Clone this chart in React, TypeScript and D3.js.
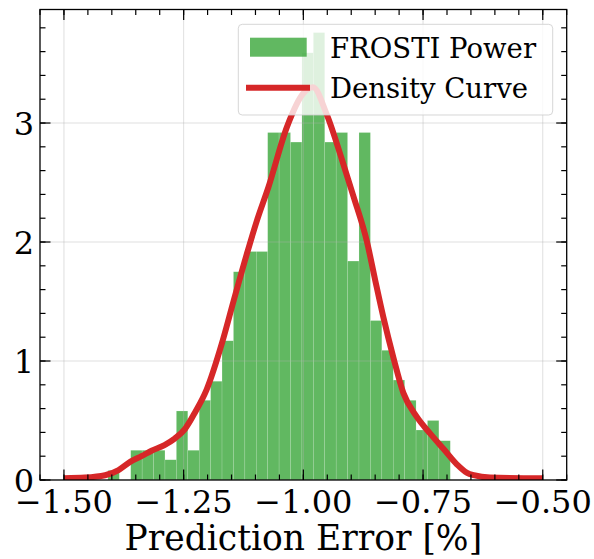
import React from 'react';
import * as d3 from 'd3';

// histogram densities, 30 equal bins over the data range
const histRange = [-1.4082, -0.6931];
const histDensity = [
  0.08, 0, 0.25, 0.25, 0.25, 0.17, 0.58, 0.25, 0.67, 0.83,
  1.17, 1.75, 1.92, 1.92, 2.92, 2.92, 2.84, 3.59, 3.76, 2.84,
  2.92, 1.84, 2.92, 1.34, 1.09, 0.84, 0.67, 0.42, 0.5, 0.33,
];

// density curve
const curveX = [
  -1.5, -1.456, -1.414, -1.386, -1.361, -1.338, -1.317, -1.29, -1.268, -1.247,
  -1.226, -1.202, -1.17, -1.146, -1.118, -1.097, -1.073, -1.034, -1.0, -0.98,
  -0.951, -0.92, -0.895, -0.867, -0.85, -0.833, -0.812, -0.791, -0.763, -0.735,
  -0.707, -0.679, -0.658, -0.644, -0.61, -0.5,
];
const curveY = [
  0.015, 0.02, 0.04, 0.084, 0.154, 0.2, 0.246, 0.294, 0.35, 0.43,
  0.57, 0.76, 1.15, 1.5, 1.9, 2.18, 2.46, 2.97, 3.25, 3.3,
  3.07, 2.7, 2.38, 2.0, 1.68, 1.37, 1.03, 0.73, 0.53, 0.39,
  0.26, 0.13, 0.06, 0.04, 0.02, 0.015,
];

const xTicks = [-1.5, -1.25, -1.0, -0.75, -0.5];
const yTicks = [0, 1, 2, 3];
const legendLabels = ['FROSTI Power', 'Density Curve'];

const W = 594;
const H = 559;
const left = 40, right = 566.7, top = 9.5, bottom = 480;
const FONT = '"DejaVu Serif", serif';
const GREEN = '#2ca02c';
const RED = '#d62728';

const fmt = (v: number) => d3.format('.2f')(v).replace('-', '\u2212');

export default function App() {
  const x = d3.scaleLinear().domain([-1.55, -0.45]).range([left, right]);
  const y = d3.scaleLinear().domain([0, 3.954]).range([bottom, top]);

  const binW = (histRange[1] - histRange[0]) / histDensity.length;
  const bins = histDensity.map((d, i) => ({
    x0: histRange[0] + i * binW,
    x1: histRange[0] + (i + 1) * binW,
    d,
  }));

  const line = d3
    .line<number>()
    .x((_, i) => x(curveX[i]))
    .y((d) => y(d))
    .curve(d3.curveMonotoneX);

  const xMinor = x.ticks(22);
  const yMinor = y.ticks(20);

  const MAJ = 10.5, MIN = 5.5;

  return (
    <div style={{ position: 'fixed', left: 0, top: 0 }}>
      <svg width={W} height={H} style={{ display: 'block', background: '#fff' }}>
        <defs>
          <clipPath id="plot">
            <rect x={left} y={top} width={right - left} height={bottom - top} />
          </clipPath>
        </defs>

        <g clipPath="url(#plot)">
          {bins.map((b, i) =>
            b.d > 0 ? (
              <rect
                key={i}
                x={x(b.x0)}
                y={y(b.d)}
                width={x(b.x1) - x(b.x0)}
                height={y(0) - y(b.d)}
                fill={GREEN}
                fillOpacity={0.75}
                stroke="#fff"
                strokeWidth={0.5}
                strokeOpacity={0.3}
              />
            ) : null
          )}

          {/* grid */}
          {xTicks.map((t) => (
            <line key={'gx' + t} x1={x(t)} x2={x(t)} y1={top} y2={bottom} stroke="#b0b0b0" strokeOpacity={0.4} strokeWidth={1} />
          ))}
          {yTicks.map((t) => (
            <line key={'gy' + t} x1={left} x2={right} y1={y(t)} y2={y(t)} stroke="#b0b0b0" strokeOpacity={0.4} strokeWidth={1} />
          ))}

          <path d={line(curveY) || ''} fill="none" stroke={RED} strokeWidth={6} strokeLinejoin="round" strokeLinecap="butt" />
        </g>

        {/* ticks, inward on all sides */}
        <g stroke="#000" strokeWidth={1.2}>
          {xMinor.map((t) => (
            <g key={'xm' + t}>
              <line x1={x(t)} x2={x(t)} y1={bottom} y2={bottom - MIN} />
              <line x1={x(t)} x2={x(t)} y1={top} y2={top + MIN} />
            </g>
          ))}
          {xTicks.map((t) => (
            <g key={'xM' + t}>
              <line x1={x(t)} x2={x(t)} y1={bottom} y2={bottom - MAJ} />
              <line x1={x(t)} x2={x(t)} y1={top} y2={top + MAJ} />
            </g>
          ))}
          {yMinor.map((t) => (
            <g key={'ym' + t}>
              <line x1={left} x2={left + MIN} y1={y(t)} y2={y(t)} />
              <line x1={right} x2={right - MIN} y1={y(t)} y2={y(t)} />
            </g>
          ))}
          {yTicks.map((t) => (
            <g key={'yM' + t}>
              <line x1={left} x2={left + MAJ} y1={y(t)} y2={y(t)} />
              <line x1={right} x2={right - MAJ} y1={y(t)} y2={y(t)} />
            </g>
          ))}
        </g>

        <rect x={left} y={top} width={right - left} height={bottom - top} fill="none" stroke="#000" strokeWidth={1.3} />

        {/* tick labels */}
        <g fontFamily={FONT} fontSize={32} fill="#000">
          {xTicks.map((t) => (
            <text key={'xl' + t} x={x(t)} y={bottom + 33} textAnchor="middle">
              {fmt(t)}
            </text>
          ))}
          {yTicks.map((t) => (
            <text key={'yl' + t} x={left - 6} y={y(t)} dy="0.36em" textAnchor="end">
              {t}
            </text>
          ))}
        </g>

        <text x={(left + right) / 2} y={550} textAnchor="middle" fontFamily={FONT} fontSize={34.5}>
          Prediction Error [%]
        </text>

        {/* legend */}
        <g>
          <rect x={238.3} y={24.3} width={314.4} height={90.7} rx={4} fill="#fff" fillOpacity={0.8} stroke="#cccccc" strokeOpacity={0.8} strokeWidth={1} />
          <rect x={250} y={37.7} width={56.7} height={19} fill={GREEN} fillOpacity={0.75} />
          <line x1={246} x2={310} y1={87.7} y2={87.7} stroke={RED} strokeWidth={6} />
          <text x={330} y={57.7} fontFamily={FONT} fontSize={27.5}>{legendLabels[0]}</text>
          <text x={330} y={97.7} fontFamily={FONT} fontSize={27.5}>{legendLabels[1]}</text>
        </g>
      </svg>
    </div>
  );
}
